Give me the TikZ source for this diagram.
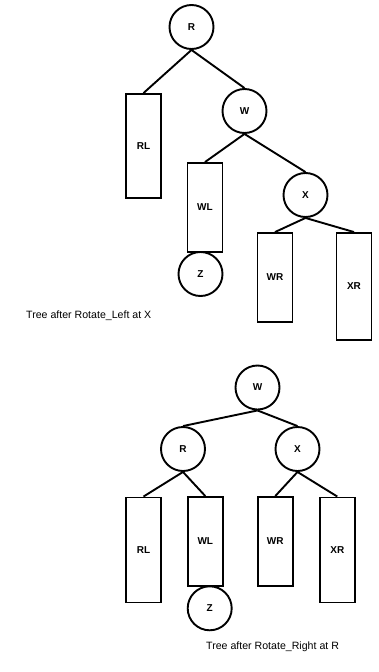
\documentclass[tikz,border=0pt]{standalone}
\usepackage{fontspec}
\setmainfont{Liberation Sans}
\begin{document}
\begin{tikzpicture}[x=1pt,y=-1pt,
  leaf/.style={draw, line width=1.9pt, rectangle, inner sep=0pt, minimum width=35pt, font=\bfseries\fontsize{10}{12}\selectfont},
  nd/.style={draw, line width=1.9pt, circle, inner sep=0pt, minimum size=44pt, font=\bfseries\fontsize{10}{12}\selectfont},
  captext/.style={anchor=west, inner sep=0pt, font=\fontsize{10.6}{12}\selectfont},
  edge/.style={draw, line width=1.9pt}]
\useasboundingbox[fill=white] (0,0) rectangle (378,672);
% top tree
\node[nd] (R1) at (191.5,27) {R};
\node[leaf, minimum height=104pt] (RL1) at (143.5,146) {RL};
\node[nd] (W1) at (244.5,111) {W};
\node[leaf, minimum height=89pt] (WL1) at (205,207.5) {WL};
\node[nd] (X1) at (305.5,195) {X};
\node[nd] (Z1) at (200.5,274) {Z};
\node[leaf, minimum height=89pt] (WR1) at (275,277.5) {WR};
\node[leaf, minimum height=107pt] (XR1) at (354,286.5) {XR};
\path[edge] (R1.south) -- (RL1.north);
\path[edge] (R1.south) -- (W1.north);
\path[edge] (W1.south) -- (WL1.north);
\path[edge] (W1.south) -- (X1.north);
\path[edge] (X1.south) -- (WR1.north);
\path[edge] (X1.south) -- (XR1.north);
\node[captext] (c1) at (26,316) {Tree after Rotate\_Left at X};
% bottom tree
\node[nd] (W2) at (257.5,387.5) {W};
\node[nd] (R2) at (183,449) {R};
\node[nd] (X2) at (297.5,449) {X};
\node[leaf, minimum height=105pt] (RL2) at (143.5,550) {RL};
\node[leaf, minimum height=89pt] (WL2) at (205.3,541.5) {WL};
\node[leaf, minimum height=89pt] (WR2) at (275.3,541.5) {WR};
\node[leaf, minimum height=105pt] (XR2) at (337.3,550) {XR};
\node[nd] (Z2) at (209.7,608.3) {Z};
\path[edge] (W2.south) -- (R2.north);
\path[edge] (W2.south) -- (X2.north);
\path[edge] (R2.south) -- (RL2.north);
\path[edge] (R2.south) -- (WL2.north);
\path[edge] (X2.south) -- (WR2.north);
\path[edge] (X2.south) -- (XR2.north);
\node[captext] (c2) at (206,646.7) {Tree after Rotate\_Right at R};
\end{tikzpicture}
\end{document}
